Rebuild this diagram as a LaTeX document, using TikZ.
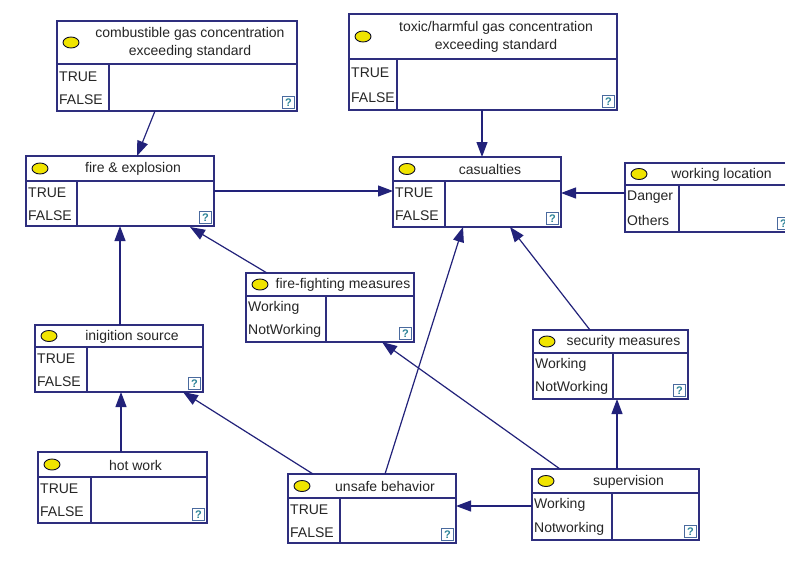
\documentclass[tikz,border=0pt]{standalone}
\usepackage{fontspec}
\setmainfont{Liberation Sans}
\usetikzlibrary{arrows.meta,calc}
\definecolor{bnline}{HTML}{2E2E7E}
\definecolor{arrcol}{HTML}{22227A}
\definecolor{ellfill}{HTML}{F0E400}
\definecolor{qcol}{HTML}{2A8296}
\definecolor{qframe}{HTML}{4A6A9E}
\tikzset{
  bnframe/.style={draw=bnline, line width=1.4pt, fill=white, rectangle, inner sep=0pt, outer sep=0pt},
  bnl/.style={draw=bnline, line width=1.4pt},
  ellst/.style={draw=black!70!bnline, fill=ellfill, line width=0.9pt},
  titlest/.style={font=\fontsize{14}{18}\selectfont, align=center, inner sep=0pt, text=black!85},
  statest/.style={font=\fontsize{14}{16}\selectfont, anchor=west, inner sep=0pt, text=black!85},
  qbox/.style={draw=qframe, line width=0.8pt, fill=white, minimum width=12pt, minimum height=12pt, inner sep=0pt,
    font=\fontsize{11}{11}\selectfont\bfseries, text=qcol},
  arr/.style={draw=arrcol, line width=1.2pt, -{Triangle[length=15pt,width=11pt]}}
}
% #1 name, #2 x1, #3 y1, #4 x2, #5 y2, #6 header bottom, #7 column x, #8 title
\newcommand\bnbox[8]{%
  \node[bnframe, minimum width={(#4)-(#2)}, minimum height={(#5)-(#3)}, anchor=north west] (#1) at (#2,#3) {};
  \draw[bnl] (#2,#6) -- (#4,#6);
  \draw[bnl] (#7,#6) -- (#7,#5);
  \draw[ellst] ({#2+14},{(#3+#6)/2}) ellipse [x radius=8pt, y radius=5.5pt];
  \node[titlest] at ({(#2+26+#4)/2},{(#3+#6)/2+0.5}) {#8};
  \coordinate (#1-s1) at ({#2+2},{#6+(#5-#6)/4+0.5});
  \coordinate (#1-s2) at ({#2+2},{#6+3*(#5-#6)/4+0.5});
  \node[qbox] at ({#4-8.5},{#5-8.5}) {?};
}
\newcommand\bnstates[3]{%
  \node[statest] at (#1-s1) {#2};
  \node[statest] at (#1-s2) {#3};
}
\begin{document}
\begin{tikzpicture}[x=1pt,y=-1pt]
\useasboundingbox (0,0) rectangle (785,560);
\clip (0,0) rectangle (785,560);
\fill[white] (0,0) rectangle (785,560);

\bnbox{comb}{57}{21}{297}{111}{64}{109}{combustible gas concentration\\exceeding standard}
\bnstates{comb}{TRUE}{FALSE}
\bnbox{tox}{349}{14}{617}{110}{59}{397}{toxic/harmful gas concentration\\exceeding standard}
\bnstates{tox}{TRUE}{FALSE}
\bnbox{fe}{26}{156}{214}{226}{181}{77}{fire \& explosion}
\bnstates{fe}{TRUE}{FALSE}
\bnbox{cas}{393}{157}{561}{227}{181}{445}{casualties}
\bnstates{cas}{TRUE}{FALSE}
\bnbox{wl}{625}{163}{792}{232}{185}{679}{working location}
\bnstates{wl}{Danger}{Others}
\bnbox{ff}{246}{273}{414}{342}{296}{326}{fire-fighting measures}
\bnstates{ff}{Working}{NotWorking}
\bnbox{ign}{35}{325}{203}{392}{347}{87}{inigition source}
\bnstates{ign}{TRUE}{FALSE}
\bnbox{sec}{533}{330}{688}{399}{353}{613}{security measures}
\bnstates{sec}{Working}{NotWorking}
\bnbox{hot}{38}{452}{207}{523}{477}{91}{hot work}
\bnstates{hot}{TRUE}{FALSE}
\bnbox{uns}{288}{474}{456}{543}{498}{340}{unsafe behavior}
\bnstates{uns}{TRUE}{FALSE}
\bnbox{sup}{532}{469}{699}{540}{493}{612}{supervision}
\bnstates{sup}{Working}{Notworking}

% connectors
\draw[arr] ([shift={(98,90)}]comb.north west) -- ([shift={(111,0)}]fe.north west);
\draw[arr] ([shift={(133,96)}]tox.north west) -- ([shift={(89,0)}]cas.north west);
\draw[arr] ([shift={(188,35)}]fe.north west) -- ([shift={(0,34)}]cas.north west);
\draw[arr] ([shift={(0,30)}]wl.north west) -- ([shift={(168,36)}]cas.north west);
\draw[arr] ([shift={(85,0)}]ign.north west) -- ([shift={(94,70)}]fe.north west);
\draw[arr] ([shift={(21,0)}]ff.north west) -- ([shift={(164,71)}]fe.north west);
\draw[arr] ([shift={(83,0)}]hot.north west) -- ([shift={(86,67)}]ign.north west);
\draw[arr] ([shift={(25,0)}]uns.north west) -- ([shift={(148,67)}]ign.north west);
\draw[arr] ([shift={(97,0)}]uns.north west) -- ([shift={(70,70)}]cas.north west);
\draw[arr] ([shift={(0,37)}]sup.north west) -- ([shift={(168,32)}]uns.north west);
\draw[arr] ([shift={(85,0)}]sup.north west) -- ([shift={(84,69)}]sec.north west);
\draw[arr] ([shift={(57,0)}]sec.north west) -- ([shift={(117,70)}]cas.north west);
\draw[arr] ([shift={(28,0)}]sup.north west) -- ([shift={(136,69)}]ff.north west);
\end{tikzpicture}
\end{document}
